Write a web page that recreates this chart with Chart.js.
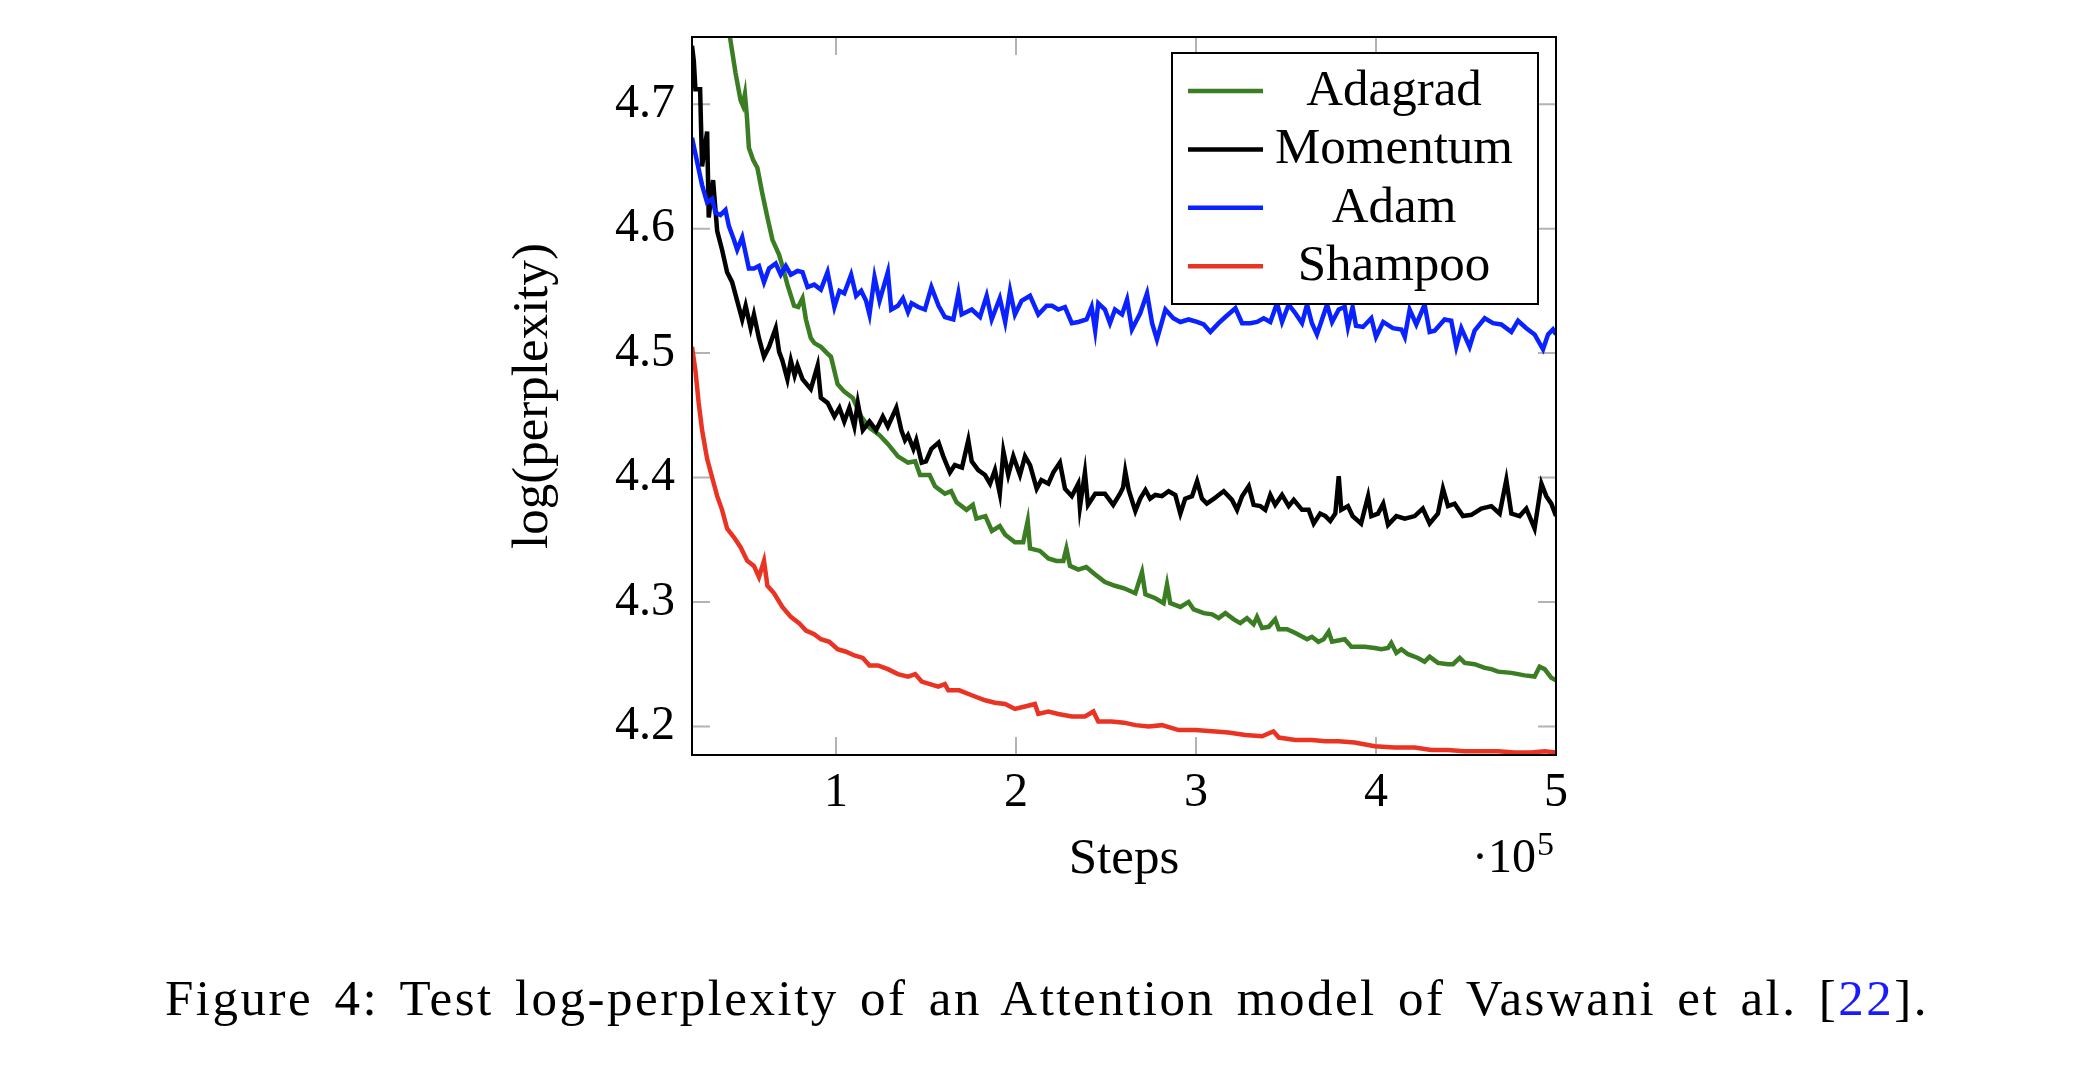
<!DOCTYPE html>
<html>
<head>
<meta charset="utf-8">
<script src="https://cdn.jsdelivr.net/npm/chart.js@4.4.0/dist/chart.umd.min.js"></script>
<style>
  html, body { margin: 0; padding: 0; background: #fff; }
  #wrap { position: relative; width: 2084px; height: 1080px; }
  #plot { position: absolute; left: 0; top: 0; }
  #caption { position: absolute; left: 165px; top: 973px; font-family: "Liberation Serif", serif; font-size: 51px; line-height: 51px; letter-spacing: 2.5px; word-spacing: 6px; white-space: nowrap; color: #000; }
  #caption span { color: #1a1aff; }
</style>
</head>
<body>
<div id="wrap">
  <canvas id="plot" width="2084" height="1080"></canvas>
  <div id="caption">Figure 4: Test log-perplexity of an Attention model of Vaswani et al. [<span>22</span>].</div>
</div>
<script>
// steps are in units of 1e5
const seriesNames = ["Adagrad", "Momentum", "Adam", "Shampoo"];
const xTickValues = [1, 2, 3, 4, 5];
const yTickValues = [4.2, 4.3, 4.4, 4.5, 4.6, 4.7];

const adagradSteps = [0.20,0.30,0.36,0.414,0.442,0.470,0.482,0.494,0.505,0.516,0.540,0.563,0.591,0.619,0.647,0.684,0.712,0.730,0.767,0.790,0.814,0.833,0.860,0.880,0.916,0.950,0.972,1.009,1.046,1.093,1.140,1.186,1.242,1.288,1.344,1.40,1.44,1.467,1.52,1.55,1.605,1.64,1.67,1.725,1.76,1.78,1.83,1.866,1.91,1.94,1.994,2.04,2.065,2.078,2.133,2.18,2.225,2.263,2.28,2.30,2.346,2.39,2.44,2.494,2.55,2.60,2.663,2.70,2.719,2.774,2.82,2.839,2.857,2.913,2.959,2.987,3.043,3.09,3.126,3.163,3.21,3.246,3.283,3.32,3.339,3.367,3.404,3.44,3.46,3.506,3.552,3.617,3.644,3.68,3.709,3.737,3.756,3.79,3.826,3.863,3.937,3.993,4.03,4.067,4.085,4.113,4.141,4.178,4.233,4.27,4.298,4.344,4.40,4.428,4.465,4.493,4.548,4.604,4.641,4.678,4.752,4.826,4.881,4.909,4.937,4.974,5.00];
const adagradLoss = [5.00,4.86,4.80,4.751,4.725,4.703,4.699,4.708,4.690,4.665,4.655,4.649,4.628,4.609,4.591,4.579,4.565,4.555,4.538,4.537,4.544,4.527,4.512,4.508,4.505,4.500,4.497,4.475,4.469,4.464,4.449,4.440,4.434,4.427,4.417,4.412,4.413,4.402,4.402,4.393,4.387,4.389,4.380,4.374,4.378,4.367,4.369,4.357,4.361,4.354,4.348,4.348,4.365,4.343,4.341,4.335,4.333,4.333,4.343,4.329,4.326,4.328,4.322,4.316,4.313,4.311,4.307,4.324,4.306,4.303,4.299,4.314,4.299,4.296,4.300,4.294,4.291,4.290,4.287,4.291,4.286,4.283,4.287,4.282,4.288,4.279,4.280,4.286,4.278,4.278,4.275,4.270,4.272,4.268,4.270,4.276,4.268,4.269,4.270,4.264,4.264,4.263,4.262,4.263,4.267,4.259,4.262,4.258,4.255,4.252,4.256,4.251,4.250,4.250,4.255,4.251,4.250,4.247,4.246,4.244,4.243,4.241,4.240,4.248,4.246,4.239,4.237];

const momentumSteps = [0.200,0.210,0.219,0.245,0.256,0.284,0.293,0.317,0.340,0.367,0.395,0.423,0.451,0.479,0.498,0.526,0.544,0.572,0.600,0.628,0.665,0.684,0.702,0.730,0.749,0.770,0.786,0.814,0.860,0.898,0.916,0.953,0.991,1.019,1.046,1.074,1.102,1.121,1.149,1.186,1.223,1.260,1.288,1.335,1.363,1.383,1.40,1.43,1.446,1.476,1.50,1.53,1.57,1.596,1.633,1.66,1.70,1.735,1.754,1.79,1.828,1.856,1.883,1.91,1.93,1.957,1.985,2.022,2.05,2.078,2.115,2.141,2.18,2.207,2.244,2.272,2.31,2.346,2.355,2.383,2.40,2.44,2.494,2.54,2.578,2.595,2.607,2.626,2.663,2.69,2.719,2.745,2.774,2.811,2.848,2.885,2.913,2.94,2.978,3.006,3.033,3.06,3.10,3.126,3.154,3.20,3.228,3.256,3.293,3.32,3.357,3.385,3.413,3.44,3.478,3.515,3.543,3.589,3.626,3.654,3.69,3.719,3.746,3.774,3.793,3.807,3.844,3.87,3.917,3.956,3.974,4.011,4.04,4.067,4.113,4.16,4.215,4.26,4.298,4.344,4.372,4.40,4.437,4.483,4.53,4.585,4.641,4.687,4.724,4.752,4.798,4.835,4.881,4.919,4.946,4.974,5.00];
const momentumLoss = [4.747,4.735,4.712,4.712,4.650,4.678,4.609,4.639,4.598,4.583,4.565,4.557,4.542,4.527,4.538,4.520,4.531,4.512,4.497,4.505,4.520,4.501,4.494,4.479,4.494,4.482,4.490,4.479,4.471,4.490,4.464,4.460,4.449,4.456,4.445,4.456,4.441,4.460,4.438,4.445,4.438,4.449,4.441,4.456,4.438,4.430,4.434,4.423,4.430,4.412,4.413,4.423,4.428,4.417,4.404,4.410,4.408,4.430,4.413,4.406,4.402,4.395,4.406,4.387,4.421,4.402,4.417,4.402,4.417,4.410,4.391,4.398,4.395,4.404,4.412,4.391,4.385,4.395,4.376,4.404,4.378,4.387,4.387,4.378,4.387,4.392,4.405,4.390,4.373,4.383,4.390,4.383,4.386,4.385,4.389,4.386,4.371,4.383,4.385,4.397,4.383,4.379,4.383,4.386,4.389,4.382,4.374,4.385,4.393,4.378,4.377,4.374,4.386,4.378,4.386,4.377,4.382,4.374,4.374,4.363,4.371,4.369,4.365,4.371,4.401,4.374,4.377,4.369,4.363,4.385,4.369,4.371,4.379,4.362,4.369,4.367,4.369,4.375,4.363,4.371,4.391,4.377,4.379,4.369,4.370,4.375,4.377,4.371,4.398,4.371,4.369,4.375,4.359,4.395,4.385,4.379,4.369];

const adamSteps = [0.200,0.228,0.256,0.284,0.312,0.330,0.358,0.386,0.405,0.433,0.451,0.479,0.516,0.544,0.572,0.600,0.628,0.665,0.693,0.721,0.749,0.786,0.814,0.842,0.879,0.916,0.953,0.991,1.019,1.046,1.084,1.112,1.140,1.167,1.186,1.214,1.242,1.288,1.307,1.344,1.372,1.40,1.42,1.457,1.494,1.53,1.57,1.605,1.652,1.68,1.698,1.754,1.80,1.837,1.865,1.91,1.94,1.967,1.994,2.031,2.078,2.124,2.17,2.20,2.235,2.272,2.31,2.346,2.392,2.42,2.44,2.457,2.494,2.522,2.55,2.589,2.617,2.644,2.69,2.728,2.756,2.783,2.83,2.874,2.913,2.959,3.006,3.043,3.08,3.126,3.163,3.219,3.256,3.302,3.339,3.376,3.413,3.45,3.478,3.515,3.552,3.589,3.617,3.644,3.672,3.70,3.728,3.756,3.793,3.826,3.844,3.87,3.889,3.928,3.974,4.00,4.04,4.094,4.141,4.16,4.187,4.224,4.27,4.298,4.326,4.381,4.418,4.446,4.474,4.52,4.548,4.604,4.65,4.696,4.752,4.789,4.835,4.881,4.928,4.956,4.983,5.00];
const adamLoss = [4.673,4.654,4.635,4.621,4.624,4.613,4.611,4.615,4.602,4.591,4.583,4.593,4.568,4.568,4.570,4.557,4.568,4.572,4.563,4.570,4.563,4.566,4.565,4.553,4.555,4.551,4.565,4.537,4.550,4.548,4.563,4.546,4.550,4.542,4.531,4.561,4.542,4.565,4.535,4.538,4.544,4.533,4.540,4.537,4.535,4.553,4.538,4.529,4.527,4.548,4.531,4.535,4.529,4.546,4.527,4.544,4.525,4.550,4.531,4.542,4.546,4.531,4.538,4.538,4.535,4.537,4.524,4.525,4.527,4.537,4.518,4.540,4.535,4.524,4.535,4.531,4.543,4.519,4.532,4.548,4.524,4.511,4.535,4.528,4.525,4.527,4.525,4.523,4.517,4.524,4.529,4.536,4.524,4.524,4.525,4.528,4.525,4.540,4.525,4.539,4.532,4.524,4.539,4.524,4.515,4.527,4.539,4.525,4.535,4.537,4.521,4.537,4.522,4.521,4.528,4.513,4.525,4.520,4.519,4.513,4.535,4.523,4.539,4.517,4.518,4.527,4.526,4.505,4.520,4.505,4.518,4.528,4.524,4.523,4.517,4.526,4.520,4.515,4.503,4.515,4.519,4.515];

const shampooSteps = [0.200,0.219,0.237,0.256,0.284,0.312,0.340,0.367,0.395,0.433,0.470,0.507,0.544,0.572,0.600,0.619,0.656,0.702,0.749,0.795,0.833,0.879,0.916,0.963,1.009,1.056,1.102,1.149,1.186,1.233,1.288,1.344,1.40,1.44,1.476,1.522,1.568,1.605,1.624,1.685,1.754,1.828,1.883,1.94,1.994,2.05,2.105,2.124,2.18,2.235,2.31,2.383,2.43,2.457,2.53,2.60,2.663,2.737,2.811,2.904,2.996,3.09,3.18,3.274,3.367,3.43,3.46,3.552,3.644,3.719,3.793,3.881,3.993,4.104,4.215,4.307,4.40,4.493,4.585,4.678,4.77,4.863,4.937,5.00];
const shampooLoss = [4.505,4.486,4.460,4.438,4.415,4.400,4.385,4.374,4.359,4.352,4.344,4.333,4.329,4.320,4.333,4.313,4.307,4.296,4.288,4.283,4.277,4.274,4.270,4.268,4.262,4.260,4.257,4.255,4.249,4.249,4.246,4.242,4.240,4.242,4.236,4.234,4.232,4.234,4.229,4.229,4.225,4.221,4.219,4.218,4.214,4.216,4.218,4.210,4.212,4.210,4.208,4.208,4.212,4.204,4.204,4.203,4.201,4.200,4.201,4.197,4.197,4.196,4.195,4.193,4.192,4.196,4.191,4.189,4.189,4.188,4.188,4.187,4.184,4.183,4.183,4.181,4.181,4.180,4.180,4.180,4.179,4.179,4.180,4.179];

const allSteps = [adagradSteps, momentumSteps, adamSteps, shampooSteps];
const allLoss = [adagradLoss, momentumLoss, adamLoss, shampooLoss];
const lineColors = ["#3a7d23", "#000000", "#0a22ff", "#ea3323"];
const serif = "'Liberation Serif', 'Times New Roman', serif";

Chart.defaults.font.family = serif;
Chart.defaults.color = "#000";

function toPoints(steps, loss) {
  return steps.map(function (s, i) { return { x: s, y: loss[i] }; });
}

const datasets = seriesNames.map(function (name, i) {
  return {
    label: name,
    data: toPoints(allSteps[i], allLoss[i]),
    borderColor: lineColors[i],
    backgroundColor: lineColors[i],
    borderWidth: 4.5,
    pointRadius: 0,
    tension: 0,
    fill: false,
    clip: 0,
    order: seriesNames.length - i
  };
});

// pgfplots look: inner gray tick marks, black box, boxed legend, ·10^5 factor
const pgfFrame = {
  id: "pgfFrame",
  beforeDatasetsDraw(chart) {
    const ctx = chart.ctx, a = chart.chartArea;
    const xs = chart.scales.x, ys = chart.scales.y;
    ctx.save();
    ctx.strokeStyle = "#b3b3b3";
    ctx.lineWidth = 2;
    ctx.beginPath();
    xs.ticks.forEach(function (t) {
      const px = xs.getPixelForValue(t.value);
      ctx.moveTo(px, a.bottom); ctx.lineTo(px, a.bottom - 18);
      ctx.moveTo(px, a.top); ctx.lineTo(px, a.top + 18);
    });
    ys.ticks.forEach(function (t) {
      const py = ys.getPixelForValue(t.value);
      ctx.moveTo(a.left, py); ctx.lineTo(a.left + 18, py);
      ctx.moveTo(a.right, py); ctx.lineTo(a.right - 18, py);
    });
    ctx.stroke();
    ctx.restore();
  },
  afterDatasetsDraw(chart) {
    const ctx = chart.ctx, a = chart.chartArea;
    ctx.save();
    ctx.strokeStyle = "#000";
    ctx.lineWidth = 2;
    ctx.strokeRect(a.left, a.top, a.right - a.left, a.bottom - a.top);

    const boxL = a.right - 384, boxT = a.top + 16, boxW = 366, boxH = 251;
    ctx.fillStyle = "#fff";
    ctx.fillRect(boxL, boxT, boxW, boxH);
    ctx.strokeRect(boxL, boxT, boxW, boxH);
    ctx.font = "51px " + serif;
    ctx.textAlign = "center";
    ctx.textBaseline = "alphabetic";
    chart.data.datasets.forEach(function (ds, i) {
      const ly = boxT + 38 + i * 58.4;
      ctx.strokeStyle = ds.borderColor;
      ctx.lineWidth = 4.5;
      ctx.beginPath();
      ctx.moveTo(boxL + 16, ly);
      ctx.lineTo(boxL + 91, ly);
      ctx.stroke();
      ctx.fillStyle = "#000";
      ctx.fillText(ds.label, boxL + 222, ly + 14);
    });

    ctx.fillStyle = "#000";
    ctx.textAlign = "left";
    ctx.font = "34px " + serif;
    const w5 = ctx.measureText("5").width;
    ctx.fillText("5", a.right - 2 - w5, a.bottom + 100);
    ctx.font = "48px " + serif;
    ctx.textAlign = "right";
    ctx.fillText("\u00B710", a.right - 3 - w5, a.bottom + 117);
    ctx.restore();
  }
};

new Chart(document.getElementById("plot"), {
  type: "line",
  data: { datasets: datasets },
  options: {
    responsive: false,
    animation: false,
    devicePixelRatio: 1,
    layout: { padding: { left: 508, right: 528, top: 37, bottom: 195 } },
    plugins: { legend: { display: false }, tooltip: { enabled: false } },
    scales: {
      x: {
        type: "linear",
        min: 0.2,
        max: 5,
        afterBuildTicks: function (s) { s.ticks = xTickValues.map(function (v) { return { value: v }; }); },
        afterFit: function (s) { s.height = 130; },
        grid: { display: false, drawTicks: false },
        border: { display: false },
        ticks: { color: "#000", font: { size: 48, lineHeight: 1 }, padding: 14, maxRotation: 0, autoSkip: false,
          callback: function (v) { return String(v); } },
        title: { display: true, text: "Steps", color: "#000", font: { size: 51, lineHeight: 1 }, padding: 0 }
      },
      y: {
        type: "linear",
        min: 4.177,
        max: 4.754,
        afterBuildTicks: function (s) { s.ticks = yTickValues.map(function (v) { return { value: v }; }); },
        afterFit: function (s) { s.width = 184; s.paddingTop = 0; s.paddingBottom = 0; },
        grid: { display: false, drawTicks: false },
        border: { display: false },
        ticks: { color: "#000", font: { size: 48, lineHeight: 1 }, padding: 17, autoSkip: false,
          callback: function (v) { return v.toFixed(1); } },
        title: { display: true, text: "log(perplexity)", color: "#000", font: { size: 51, lineHeight: 1 }, padding: 0 }
      }
    }
  },
  plugins: [pgfFrame]
});
</script>
</body>
</html>
